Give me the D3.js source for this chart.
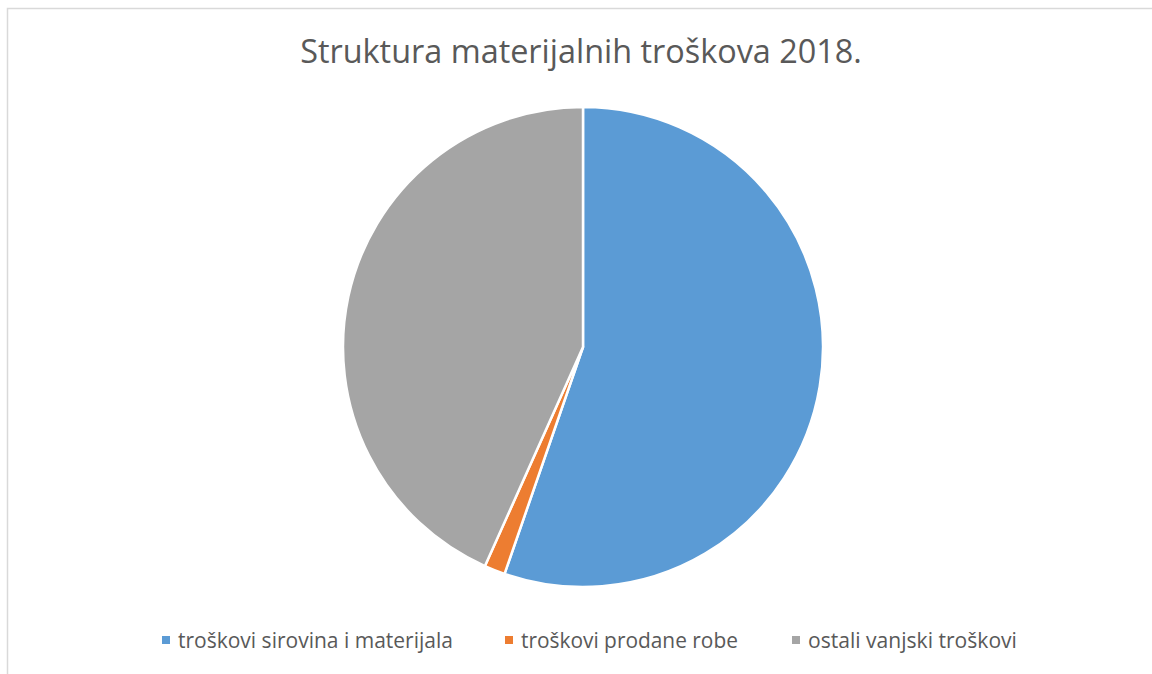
<!DOCTYPE html>
<html><head><meta charset="utf-8">
<script src="https://cdn.jsdelivr.net/npm/d3@7"></script>
<style>body{margin:0;background:#fff}svg{display:block}</style>
</head><body>
<svg id="c" width="1152" height="674"></svg>
<script>
const categories = ["troškovi sirovina i materijala", "troškovi prodane robe", "ostali vanjski troškovi"];
const values = [55.3, 1.4, 43.3];
const colors = ["#5B9BD5", "#ED7D31", "#A5A5A5"];
const title = "Struktura materijalnih troškova 2018.";

const svg = d3.select("#c");
const font = "'Open Sans', 'Liberation Sans', sans-serif";

// chart border
svg.append("path").attr("d", "M7.5,674 V8.5 H1152").attr("fill", "none").attr("stroke", "#d9d9d9").attr("stroke-width", 1.5);

// title
const t = svg.append("text").attr("x", 581).attr("y", 63).attr("text-anchor", "middle")
  .attr("font-family", font).attr("font-size", 30).attr("fill", "#595959").text(title);
const tw = t.node().getComputedTextLength();
t.attr("font-size", 30 * 562 / tw);

// pie
const cx = 583, cy = 347, r = 240;
const pie = d3.pie().sort(null).value(d => d.v);
const arc = d3.arc().innerRadius(0).outerRadius(r);
const data = categories.map((c, i) => ({c, v: values[i], col: colors[i]}));
svg.append("g").attr("transform", `translate(${cx},${cy})`)
  .selectAll("path").data(pie(data)).join("path")
  .attr("d", arc).attr("fill", d => d.data.col)
  .attr("stroke", "#fff").attr("stroke-width", 2.5).attr("stroke-linejoin", "round");

// legend
const legX = [162, 505, 792];
const legW = [275, 217, 209];
const lg = svg.append("g");
data.forEach((d, i) => {
  lg.append("rect").attr("x", legX[i]).attr("y", 636).attr("width", 8).attr("height", 8).attr("fill", d.col);
  const tx = lg.append("text").attr("x", legX[i] + 16).attr("y", 648)
    .attr("font-family", font).attr("font-size", 18).attr("fill", "#595959").text(d.c);
  const w = tx.node().getComputedTextLength();
  tx.attr("font-size", 18 * legW[i] / w);
});
</script>
</body></html>
